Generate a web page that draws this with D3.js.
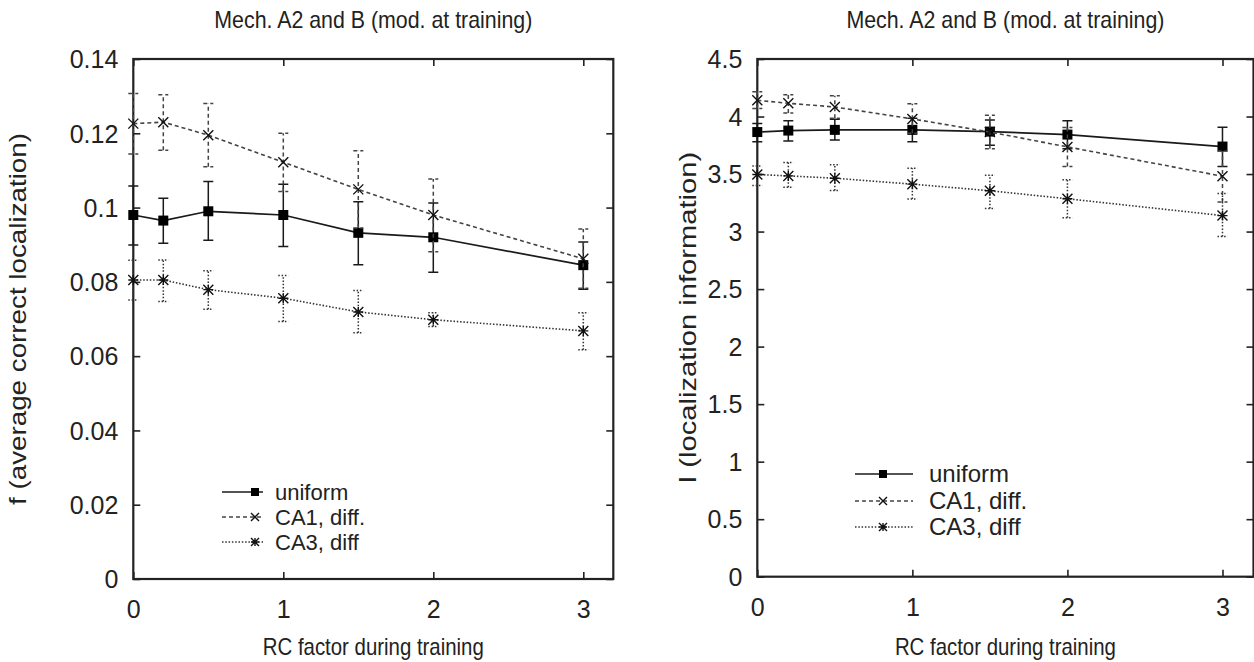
<!DOCTYPE html>
<html><head><meta charset="utf-8">
<script src="https://cdn.jsdelivr.net/npm/d3@7"></script>
<style>body{margin:0;background:#fff}text{font-family:"Liberation Sans",Arial,sans-serif;fill:#222}</style>
</head><body>
<svg id="c" width="1254" height="662"></svg>
<script>
const xs = [0, 0.2, 0.5, 1, 1.5, 2, 3];
const xTicks = [0, 1, 2, 3];
const seriesNames = ["uniform", "CA1, diff.", "CA3, diff"];
const titleText = "Mech. A2 and B (mod. at training)";
const xLabelText = "RC factor during training";

// Left panel: f (average correct localization)
const fUniform   = [0.0980, 0.0965, 0.0990, 0.0980, 0.0932, 0.0920, 0.0845];
const fUniformLo = [0.0899, 0.0904, 0.0912, 0.0895, 0.0846, 0.0826, 0.0780];
const fUniformHi = [0.1058, 0.1025, 0.1070, 0.1063, 0.1016, 0.1012, 0.0907];
const fCA1   = [0.1226, 0.1230, 0.1195, 0.1122, 0.1049, 0.0980, 0.0862];
const fCA1Lo = [0.1144, 0.1154, 0.1110, 0.1043, 0.0945, 0.0881, 0.0783];
const fCA1Hi = [0.1307, 0.1304, 0.1280, 0.1200, 0.1153, 0.1077, 0.0942];
const fCA3   = [0.0805, 0.0805, 0.0779, 0.0756, 0.0719, 0.0698, 0.0668];
const fCA3Lo = [0.0751, 0.0747, 0.0726, 0.0693, 0.0663, 0.0680, 0.0617];
const fCA3Hi = [0.0858, 0.0859, 0.0830, 0.0817, 0.0777, 0.0717, 0.0717];
const fTicks = [0, 0.02, 0.04, 0.06, 0.08, 0.1, 0.12, 0.14];
const fTickLabels = ["0", "0.02", "0.04", "0.06", "0.08", "0.1", "0.12", "0.14"];

// Right panel: I (localization information)
const iUniform   = [3.865, 3.878, 3.884, 3.884, 3.869, 3.843, 3.739];
const iUniformLo = [3.780, 3.788, 3.797, 3.780, 3.750, 3.720, 3.565];
const iUniformHi = [3.940, 3.964, 3.977, 3.985, 3.970, 3.964, 3.907];
const iCA1   = [4.141, 4.115, 4.083, 3.979, 3.865, 3.736, 3.481];
const iCA1Lo = [4.070, 4.030, 3.985, 3.855, 3.720, 3.565, 3.256];
const iCA1Hi = [4.216, 4.190, 4.180, 4.110, 4.010, 3.905, 3.700];
const iCA3   = [3.496, 3.484, 3.464, 3.412, 3.355, 3.285, 3.139];
const iCA3Lo = [3.400, 3.386, 3.356, 3.284, 3.200, 3.120, 2.957];
const iCA3Hi = [3.571, 3.600, 3.580, 3.550, 3.490, 3.450, 3.330];
const iTicks = [0, 0.5, 1, 1.5, 2, 2.5, 3, 3.5, 4, 4.5];
const iTickLabels = ["0", "0.5", "1", "1.5", "2", "2.5", "3", "3.5", "4", "4.5"];

const svg = d3.select("#c");
const FONT = '"Liberation Sans", Arial, sans-serif';

const styles = [
  {line: "#1a1a1a", w: 1.7, dash: null, marker: "square"},
  {line: "#444", w: 1.6, dash: "4,3", marker: "x"},
  {line: "#333", w: 1.6, dash: "1.5,1.8", marker: "star"}
];

function marker(g, type, cx, cy, s) {
  if (type === "square") {
    g.append("rect").attr("x", cx - s/2).attr("y", cy - s/2).attr("width", s).attr("height", s).attr("fill", "#000");
  } else {
    const h = s/2;
    const p = d3.path();
    p.moveTo(cx-h, cy-h); p.lineTo(cx+h, cy+h);
    p.moveTo(cx-h, cy+h); p.lineTo(cx+h, cy-h);
    if (type === "star") { p.moveTo(cx-h, cy); p.lineTo(cx+h, cy); p.moveTo(cx, cy-h); p.lineTo(cx, cy+h); }
    g.append("path").attr("d", p.toString()).attr("stroke", "#111").attr("stroke-width", 1.4).attr("fill", "none");
  }
}

function panel(cfg) {
  const x = d3.scaleLinear().domain([0, 3.2]).range([cfg.left, cfg.right]);
  const y = d3.scaleLinear().domain(cfg.ydom).range([cfg.bottom, cfg.top]);
  const g = svg.append("g");
  const T = 7;

  const axB = g.append("g").attr("transform", `translate(0,${cfg.bottom})`)
    .call(d3.axisBottom(x).tickValues(xTicks).tickSize(-T).tickFormat(d3.format("d")).tickPadding(0));
  const axT = g.append("g").attr("transform", `translate(0,${cfg.top})`)
    .call(d3.axisTop(x).tickValues(xTicks).tickSize(-T).tickFormat(""));
  const axL = g.append("g").attr("transform", `translate(${cfg.left},0)`)
    .call(d3.axisLeft(y).tickValues(cfg.yticks).tickSize(-T).tickFormat((d,i) => cfg.ylabels[i]).tickPadding(0));
  const axR = g.append("g").attr("transform", `translate(${cfg.right},0)`)
    .call(d3.axisRight(y).tickValues(cfg.yticks).tickSize(-T).tickFormat(""));
  [axB, axT, axL, axR].forEach(a => {
    a.select(".domain").remove();
    a.selectAll(".tick line").attr("stroke", "#222").attr("stroke-width", 1.6);
  });
  axB.selectAll(".tick text").attr("font-size", 25).attr("fill", "#222").attr("dy", null).attr("y", 39)
    .style("font-family", FONT);
  axL.selectAll(".tick text").attr("font-size", 25).attr("fill", "#222").attr("x", -15).attr("dy", "0.35em")
    .style("font-family", FONT);

  g.append("rect").attr("x", cfg.left).attr("y", cfg.top).attr("width", cfg.right - cfg.left)
    .attr("height", cfg.bottom - cfg.top).attr("fill", "none").attr("stroke", "#222").attr("stroke-width", 2.2);

  cfg.series.forEach((s, k) => {
    const st = styles[k];
    const line = d3.line().x((d, i) => x(xs[i])).y(d => y(d));
    g.append("path").datum(s.v).attr("d", line).attr("fill", "none")
      .attr("stroke", st.line).attr("stroke-width", st.w).attr("stroke-dasharray", st.dash);
    const cw = 5;
    s.v.forEach((v, i) => {
      const px = x(xs[i]);
      const eb = d3.path();
      eb.moveTo(px, y(s.lo[i])); eb.lineTo(px, y(s.hi[i]));
      eb.moveTo(px - cw, y(s.lo[i])); eb.lineTo(px + cw, y(s.lo[i]));
      eb.moveTo(px - cw, y(s.hi[i])); eb.lineTo(px + cw, y(s.hi[i]));
      g.append("path").attr("d", eb.toString()).attr("fill", "none")
        .attr("stroke", st.line).attr("stroke-width", 1.5).attr("stroke-dasharray", st.dash);
    });
    s.v.forEach((v, i) => marker(g, st.marker, x(xs[i]), y(v), 10));
  });

  const cx = (cfg.left + cfg.right) / 2;
  g.append("text").attr("x", cx).attr("y", 28).attr("text-anchor", "middle").attr("font-size", 24)
    .attr("textLength", 318).attr("lengthAdjust", "spacingAndGlyphs").text(titleText);
  g.append("text").attr("x", cx).attr("y", 655).attr("text-anchor", "middle").attr("font-size", 24)
    .attr("textLength", 221).attr("lengthAdjust", "spacingAndGlyphs").text(xLabelText);
  g.append("text").attr("transform", `translate(${cfg.ylabX},${(cfg.top + cfg.bottom) / 2}) rotate(-90)`)
    .attr("text-anchor", "middle").attr("font-size", 24)
    .attr("textLength", cfg.ylabLen).attr("lengthAdjust", "spacingAndGlyphs").text(cfg.ylabel);

  const L = cfg.legend;
  seriesNames.forEach((name, k) => {
    const st = styles[k];
    const yy = L.y[k];
    g.append("line").attr("x1", L.x1).attr("x2", L.x2).attr("y1", yy).attr("y2", yy)
      .attr("stroke", st.line).attr("stroke-width", st.w).attr("stroke-dasharray", st.dash);
    marker(g, st.marker, L.m, yy, 8);
    g.append("text").attr("x", L.tx).attr("y", yy).attr("dy", "0.35em").attr("font-size", L.fs).text(name);
  });
}

panel({
  left: 133.3, right: 613.3, top: 59, bottom: 579, ydom: [0, 0.14],
  yticks: fTicks, ylabels: fTickLabels, ylabel: "f (average correct localization)", ylabX: 26, ylabLen: 372,
  series: [
    {v: fUniform, lo: fUniformLo, hi: fUniformHi},
    {v: fCA1, lo: fCA1Lo, hi: fCA1Hi},
    {v: fCA3, lo: fCA3Lo, hi: fCA3Hi}
  ],
  legend: {x1: 222, x2: 263, m: 255, tx: 275, fs: 22, y: [492, 517, 542]}
});

panel({
  left: 757.3, right: 1253.5, top: 59, bottom: 576.7, ydom: [0, 4.5],
  yticks: iTicks, ylabels: iTickLabels, ylabel: "I (localization information)", ylabX: 696, ylabLen: 332,
  series: [
    {v: iUniform, lo: iUniformLo, hi: iUniformHi},
    {v: iCA1, lo: iCA1Lo, hi: iCA1Hi},
    {v: iCA3, lo: iCA3Lo, hi: iCA3Hi}
  ],
  legend: {x1: 855, x2: 913, m: 883, tx: 929, fs: 24, y: [474, 501, 527]}
});
</script>
</body></html>
